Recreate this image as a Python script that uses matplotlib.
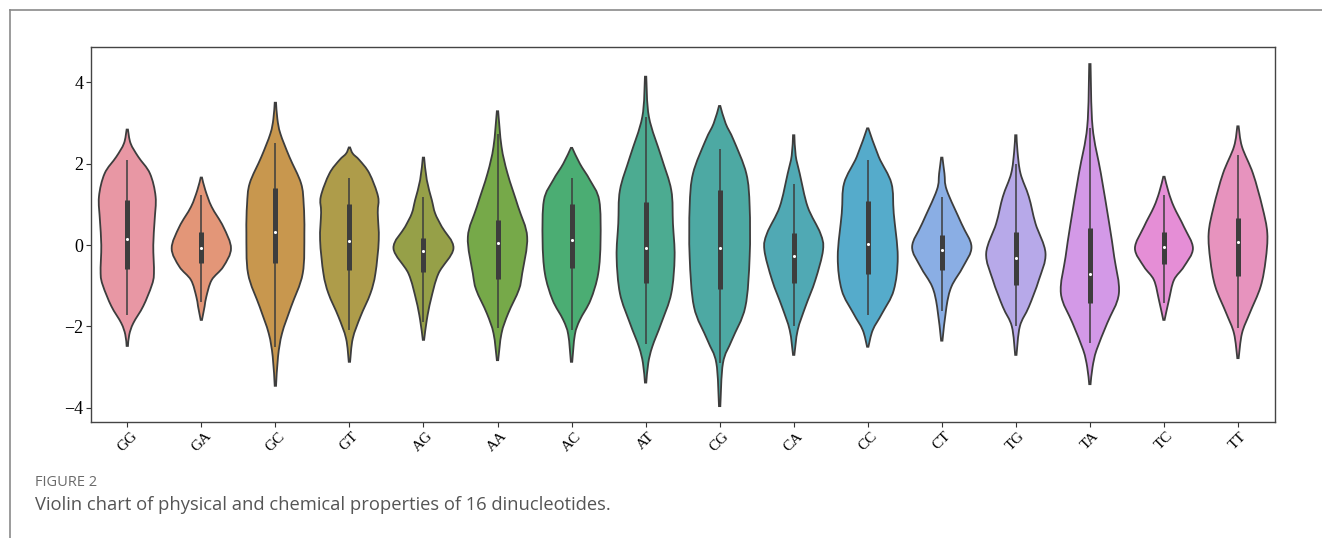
import numpy as np
import matplotlib
matplotlib.use("Agg")
import matplotlib.pyplot as plt
import seaborn as sns
from matplotlib.lines import Line2D
from matplotlib.path import Path
from matplotlib.patches import PathPatch

categories = ["GG", "GA", "GC", "GT", "AG", "AA", "AC", "AT",
              "CG", "CA", "CC", "CT", "TG", "TA", "TC", "TT"]

# density profiles: (y levels, relative density)
prof_y = {
    "GG": [-2.48, -2.2, -1.92, -1.5, -1.0, -0.7, 0.0, 0.6, 1.19, 1.76, 2.17, 2.5, 2.84],
    "GA": [-1.84, -1.5, -1.27, -0.86, -0.53, -0.08, 0.45, 0.94, 1.35, 1.66],
    "GC": [-3.46, -2.74, -2.17, -1.52, -0.7, 0.3, 1.0, 1.52, 2.17, 2.74, 3.1, 3.5],
    "GT": [-2.87, -2.3, -1.76, -1.19, -0.7, 0.12, 0.8, 1.19, 1.76, 2.09, 2.25, 2.40],
    "AG": [-2.33, -1.84, -1.35, -0.7, -0.08, 0.45, 0.78, 1.11, 1.6, 2.15],
    "AA": [-2.83, -2.17, -1.68, -1.1, -0.7, 0.2, 0.94, 1.76, 2.42, 3.29],
    "AC": [-2.87, -2.2, -1.84, -1.35, -0.7, 0.12, 1.1, 1.6, 2.0, 2.39],
    "AT": [-3.38, -2.9, -2.5, -1.92, -1.19, -0.29, 0.53, 1.35, 2.17, 3.15, 4.14],
    "CG": [-3.96, -2.9, -2.33, -1.52, -0.29, 0.94, 1.76, 2.58, 2.99, 3.42],
    "CA": [-2.70, -2.09, -1.52, -0.86, -0.12, 0.29, 0.94, 1.76, 2.2, 2.70],
    "CC": [-2.50, -2.09, -1.68, -1.11, -0.29, 0.78, 1.52, 2.17, 2.87],
    "CT": [-2.35, -1.52, -1.02, -0.53, -0.04, 0.53, 1.35, 1.76, 2.15],
    "TG": [-2.70, -2.0, -1.52, -0.86, -0.2, 0.53, 1.19, 1.76, 2.3, 2.70],
    "TA": [-3.42, -3.0, -2.58, -1.92, -1.19, -0.29, 0.53, 1.76, 2.91, 4.45],
    "TC": [-1.84, -1.35, -0.86, -0.53, -0.08, 0.45, 0.94, 1.3, 1.68],
    "TT": [-2.78, -2.17, -1.68, -1.02, -0.37, 0.29, 0.94, 1.76, 2.42, 2.92],
}
prof_d = {
    "GG": [2, 6, 18, 48, 73, 80, 78, 82, 85, 68, 33, 10, 2],
    "GA": [2, 10, 15, 31, 66, 89, 66, 31, 12, 2],
    "GC": [2, 8, 20, 47, 82, 87, 85, 77, 42, 15, 6, 2],
    "GT": [2, 10, 33, 63, 78, 88, 85, 86, 60, 30, 10, 2],
    "AG": [2, 10, 22, 45, 90, 55, 35, 25, 10, 2],
    "AA": [2, 12, 32, 64, 74, 89, 62, 30, 12, 2],
    "AC": [2, 10, 25, 57, 80, 87, 83, 55, 25, 2],
    "AT": [2, 8, 20, 47, 77, 87, 82, 77, 47, 10, 2],
    "CG": [2, 10, 37, 77, 90, 90, 80, 42, 18, 2],
    "CA": [2, 12, 35, 65, 88, 80, 42, 18, 6, 2],
    "CC": [2, 15, 43, 78, 90, 78, 71, 33, 2],
    "CT": [2, 14, 29, 64, 89, 59, 15, 8, 2],
    "TG": [2, 12, 39, 69, 89, 59, 39, 14, 5, 2],
    "TA": [2, 8, 20, 52, 87, 73, 58, 33, 8, 2],
    "TC": [2, 15, 30, 60, 87, 60, 30, 14, 2],
    "TT": [2, 12, 35, 68, 83, 88, 73, 45, 12, 2],
}
q1 = [-0.60, -0.45, -0.45, -0.61, -0.67, -0.84, -0.56, -0.94,
      -1.09, -0.93, -0.72, -0.61, -0.97, -1.43, -0.47, -0.75]
q3 = [1.11, 0.31, 1.41, 1.01, 0.18, 0.61, 1.02, 1.05,
      1.35, 0.29, 1.08, 0.25, 0.31, 0.41, 0.31, 0.67]
medians = [0.14, -0.06, 0.31, 0.11, -0.14, 0.04, 0.12, -0.06,
           -0.06, -0.26, 0.02, -0.12, -0.31, -0.70, -0.05, 0.07]
whisk_lo = [-1.72, -1.39, -2.50, -2.10, -1.90, -2.05, -2.10, -2.42,
            -2.90, -2.00, -1.72, -1.61, -1.99, -2.40, -1.43, -2.05]
whisk_hi = [2.09, 1.23, 2.52, 1.65, 1.19, 2.74, 1.66, 3.15,
            2.36, 1.50, 2.09, 1.19, 1.99, 2.89, 1.24, 2.21]
yticks = [-4, -2, 0, 2, 4]

W, H = 1322, 538
fig = plt.figure(figsize=(W / 100, H / 100), dpi=100)
ax = fig.add_axes([91 / W, 1 - 422 / H, (1275 - 91) / W, (422 - 47) / H])

palette = sns.husl_palette(len(categories), l=0.70, s=0.9)
palette = [sns.desaturate(c, 0.72) for c in palette]
edge = "#3d3d3d"
dens_scale = 74.07 * 3  # density readings -> half-width in category units


def smooth_closed_path(pts, corners):
    """Closed Catmull-Rom outline through pts; segments starting at an index
    in `corners` are straight (the violin tips)."""
    n = len(pts)
    verts = [pts[0]]
    codes = [Path.MOVETO]
    for i in range(n):
        p0, p1, p2, p3 = pts[i - 1], pts[i], pts[(i + 1) % n], pts[(i + 2) % n]
        if i in corners:
            c1, c2 = p1, p2
        else:
            # next/prev neighbour across a tip is treated as the tip itself
            q0 = p1 if (i - 1) % n in corners else p0
            q3 = p2 if (i + 1) % n in corners else p3
            c1 = p1 + (p2 - q0) / 6.0
            c2 = p2 - (q3 - p1) / 6.0
        verts += [c1, c2, p2]
        codes += [Path.CURVE4] * 3
    verts.append(pts[0])
    codes.append(Path.CLOSEPOLY)
    return Path(np.array(verts), codes)


for i, c in enumerate(categories):
    ys = np.array(prof_y[c], float)
    hw = np.array(prof_d[c], float) / dens_scale
    right = np.column_stack([i + hw, ys])
    left = np.column_stack([i - hw, ys])[::-1]
    pts = np.vstack([right, left])
    m = len(ys)
    patch = PathPatch(smooth_closed_path(pts, {m - 1, 2 * m - 1}),
                      facecolor=palette[i], edgecolor=edge, lw=1.3, zorder=2)
    ax.add_patch(patch)

pos = np.arange(len(categories))
ax.vlines(pos, whisk_lo, whisk_hi, color=edge, lw=1.1, zorder=3)
ax.vlines(pos, q1, q3, color=edge, lw=3.6, zorder=4)
ax.scatter(pos, medians, s=5, color="white", zorder=5, linewidths=0)

ax.set_xlim(-0.49, 15.5)
ax.set_ylim(-4.35, 4.87)
ax.set_xticks(pos)
ax.set_xticklabels(categories, rotation=45, family="Liberation Serif", fontsize=11)
ax.set_yticks(yticks)
ax.set_yticklabels([f"\u2212{abs(v)}" if v < 0 else str(v) for v in yticks],
                   family="Liberation Serif", fontsize=13)
ax.tick_params(axis="both", length=3.5, width=0.8, color="#333333", pad=2)
for s in ax.spines.values():
    s.set_color("#444444")
    s.set_linewidth(1.0)

# outer frame lines of the page panel
fig.add_artist(Line2D([10 / W, 1], [1 - 9.5 / H, 1 - 9.5 / H], color="#8a8a8a", lw=1.2))
fig.add_artist(Line2D([9.5 / W, 9.5 / W], [0, 1 - 9.5 / H], color="#8a8a8a", lw=1.2))

fig.text(35 / W, 1 - 483 / H, "FIGURE 2", family="Open Sans", fontsize=10.5,
         color="#6a6a6a", va="center", ha="left")
fig.text(35 / W, 1 - 505 / H,
         "Violin chart of physical and chemical properties of 16 dinucleotides.",
         family="Open Sans", fontsize=13.2, color="#555555", va="center", ha="left")

fig.savefig("out.png", dpi=100)
